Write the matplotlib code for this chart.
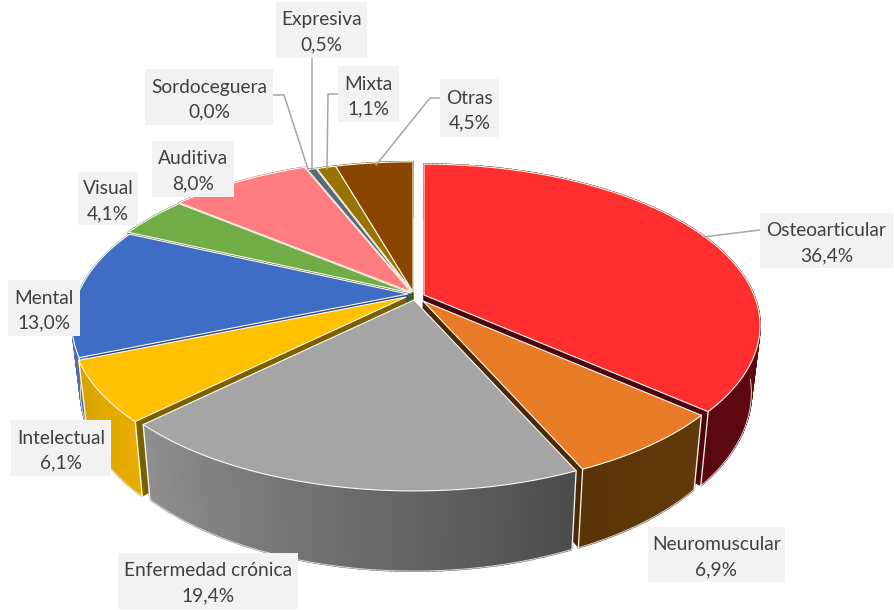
import numpy as np
import matplotlib
matplotlib.use('Agg')
import matplotlib.pyplot as plt
from matplotlib.colors import to_rgb
from matplotlib.patches import Rectangle

plt.rcParams['font.family'] = ['Lato', 'DejaVu Sans']

names = ['Osteoarticular', 'Neuromuscular', 'Enfermedad crónica', 'Intelectual', 'Mental',
         'Visual', 'Auditiva', 'Sordoceguera', 'Expresiva', 'Mixta', 'Otras']
values = [36.4, 6.9, 19.4, 6.1, 13.0, 4.1, 8.0, 0.0, 0.5, 1.1, 4.5]
value_labels = ['36,4%', '6,9%', '19,4%', '6,1%', '13,0%', '4,1%', '8,0%', '0,0%', '0,5%', '1,1%', '4,5%']

top_colors = ['#ff2f2f', '#e87c26', '#a5a5a5', '#ffc000', '#3f6cc4', '#70ad47', '#ff7c80',
              '#8a8a8a', '#5a6a78', '#997300', '#8a4500']
wall_from = ['#7a0a14', '#623a0c', '#4c4c4c', '#e8ad00', '#3a5fb0', '#4c7a30', '#b0565a',
             '#5c5c5c', '#3c4650', '#6a5000', '#5a2d00']
wall_to = ['#5a0810', '#5a3408', '#8f8f8f', '#d9a200', '#8a95b0', '#4c7a30', '#b0565a',
           '#5c5c5c', '#3c4650', '#6a5000', '#5a2d00']
cut_colors = ['#4a0610', '#4a2a06', '#555555', '#7a6000', '#2a4a90', '#3f6628', '#a05055',
              '#555555', '#3c4650', '#6a5000', '#5a2d00']

# apex of each slice and its radius factor (exploded slices)
apex_x = [424, 423, 414, 406, 408, 411, 411, 412, 412, 413, 413]
apex_y = [295, 301, 300, 297, 294, 293, 292, 292, 292, 292, 292]
radius_k = [0.985, 0.965, 0.98, 0.98, 0.985, 1.0, 1.0, 0.99, 0.98, 0.98, 0.98]

# label boxes: x0, y0, x1, y1
boxes = [(760, 213, 893, 268), (648, 527, 785, 582), (118, 553, 298, 609), (11, 420, 111, 476),
         (8, 280, 80, 336), (78, 172, 138, 225), (152, 141, 234, 197), (145, 69, 273, 125),
         (276, 2, 367, 58), (338, 66, 399, 122), (440, 79, 499, 137)]
leaders = [([703, 760], [237, 230]),
           ([273, 284, 308], [95, 95, 169]),
           ([312, 312], [58, 169]),
           ([338, 328, 327], [94, 94, 169]),
           ([440, 430, 376], [98, 98, 165])]

RX, RY, PERSP, DEPTH, SHRINK, CX = 335, 158, 0.189, 65, 0.975, 413


def project(theta, i, bottom=False):
    u = np.sin(theta)
    v = -np.cos(theta)
    s = 1 / (1 - PERSP * v)
    x = apex_x[i] + radius_k[i] * RX * u * s
    y = apex_y[i] + radius_k[i] * RY * v * s
    if bottom:
        x = CX + (x - CX) * SHRINK
        y = y + DEPTH * s
    return x, y


fig = plt.figure(figsize=(8.95, 6.1), dpi=100)
ax = fig.add_axes([0, 0, 1, 1])
ax.set_xlim(0, 895)
ax.set_ylim(610, 0)
ax.axis('off')

edges = np.cumsum([0] + values) / 100 * 2 * np.pi
mids = (edges[:-1] + edges[1:]) / 2
order = np.argsort(-np.cos(mids))
z = 3

for i in order:
    if values[i] == 0:
        continue
    th = np.linspace(edges[i], edges[i + 1], max(int(values[i] * 4), 6))
    xt, yt = project(th, i)
    xb, yb = project(th, i, bottom=True)
    ax0, ay0 = apex_x[i], apex_y[i]
    bx0 = CX + (ax0 - CX) * SHRINK
    by0 = ay0 + DEPTH

    # cut faces at both ends of the slice
    for j in (0, -1):
        ax.fill([ax0, xt[j], xb[j], bx0], [ay0, yt[j], yb[j], by0],
                color=cut_colors[i], lw=0.3, zorder=z)
        z += 1
    # outer wall, shaded in strips
    c0, c1 = np.array(to_rgb(wall_from[i])), np.array(to_rgb(wall_to[i]))
    for n in range(len(th) - 1):
        c = c0 + (c1 - c0) * n / max(len(th) - 2, 1)
        ax.fill([xt[n], xt[n + 1], xb[n + 1], xb[n]], [yt[n], yt[n + 1], yb[n + 1], yb[n]],
                color=c, lw=1.2, zorder=z)
    z += 1
    front = -np.cos(th) > 0.1
    ax.plot(xb[front], yb[front], color='#d8d8d8', lw=0.7, zorder=z)
    for j in (0, -1):
        if -np.cos(th[j]) > 0.1:
            ax.plot([xt[j], xb[j]], [yt[j], yb[j]], color='#fff8e8', lw=0.9, zorder=z)
    z += 1
    # top face
    ax.fill(np.r_[ax0, xt], np.r_[ay0, yt], facecolor=top_colors[i], edgecolor='#fff8ee',
            lw=0.8, joinstyle='round', zorder=z)
    z += 1

for lx, ly in leaders:
    ax.plot(lx, ly, color='#a6a6a6', lw=1.1, zorder=z)
z += 1

for i, (x0, y0, x1, y1) in enumerate(boxes):
    ax.add_patch(Rectangle((x0, y0), x1 - x0, y1 - y0, facecolor='#f2f2f2', edgecolor='none', zorder=z))
    xc = (x0 + x1) / 2
    ym = (y0 + y1) / 2
    ax.text(xc, ym - 10, names[i], ha='center', va='center', fontsize=13.8, color='#404040', zorder=z + 1)
    ax.text(xc, ym + 15, value_labels[i], ha='center', va='center', fontsize=13.8, color='#404040', zorder=z + 1)

fig.savefig('out.png', dpi=100)
